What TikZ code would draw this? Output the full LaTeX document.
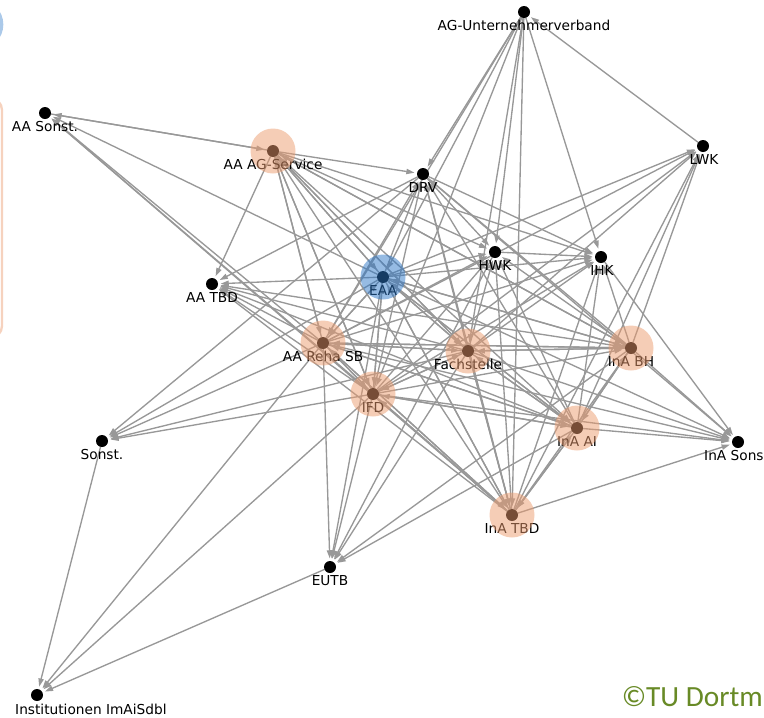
\documentclass[tikz,border=0pt]{standalone}
\usepackage{fontspec}
\setmainfont{DejaVu Sans}
\newfontfamily\tufont{Carlito}
\usetikzlibrary{arrows.meta,backgrounds}

\definecolor{peach}{RGB}{236,155,110}
\definecolor{eaablue}{RGB}{45,120,200}
\definecolor{edgegray}{RGB}{152,152,152}
\definecolor{tugreen}{RGB}{104,138,38}

\begin{document}
\begin{tikzpicture}[x=0.03cm, y=-0.03cm,
    dot/.style={circle, fill=black, inner sep=0pt, minimum size=3.6mm},
    halo/.style={circle, fill=#1, opacity=0.5, inner sep=0pt, minimum size=13.5mm},
    halo/.default=peach,
    lbl/.style={anchor=base, inner sep=0pt, font=\fontsize{11.7}{14}\selectfont},
    edge/.style={draw=edgegray, line width=1.15pt, -{Triangle[length=7pt,width=4.5pt]}, shorten >=2pt}]
  \useasboundingbox (0,0) rectangle (764,717);
  \clip (0,0) rectangle (764,717);

  % cut legend at the left border
  \fill[eaablue!40] (-22,24.5) circle (0.76cm);
  \draw[peach!45, line width=2pt, rounded corners=3.6mm] (-40,98) rectangle (2,338);

  % actors
  \node[dot] (agu) at (524,12) {};
  \node[dot] (aas) at (45,113) {};
  \node[dot] (aag) at (273,151) {};
  \node[dot] (drv) at (423,174) {};
  \node[dot] (lwk) at (703,146) {};
  \node[dot] (hwk) at (495,252) {};
  \node[dot] (ihk) at (601,257) {};
  \node[dot] (eaa) at (383,277) {};
  \node[dot] (aatbd) at (212,284) {};
  \node[dot] (reha) at (323,343) {};
  \node[dot] (fach) at (468,351) {};
  \node[dot] (inabh) at (631,348) {};
  \node[dot] (ifd) at (373,394) {};
  \node[dot] (inaai) at (577,428) {};
  \node[dot] (inas) at (738,442) {};
  \node[dot] (sonst) at (102,441) {};
  \node[dot] (inatbd) at (512,515) {};
  \node[dot] (eutb) at (330,567) {};
  \node[dot] (inst) at (37,695) {};

  % contacts
  \begin{scope}[on background layer]
    \foreach \t in {drv,eaa,reha,ifd,fach,hwk,inatbd,ihk} \draw[edge] (agu) -- (\t);
    \draw[edge] (lwk) -- (agu);
    \draw[edge] (aas) -- (aag);
    \foreach \t in {aas,drv,aatbd,eaa,reha,ifd,fach,inabh,hwk,ihk,inaai,inatbd} \draw[edge] (aag) -- (\t);
    \foreach \t in {aas,aag,drv,hwk,ihk,lwk,aatbd,reha,fach,inabh,ifd,inaai,inas,sonst,inatbd,eutb} \draw[edge] (eaa) -- (\t);
    \foreach \t in {aas,aatbd,aag,eaa,drv,hwk,ihk,lwk,fach,inabh,ifd,inaai,inas,inatbd,sonst,eutb,inst} \draw[edge] (reha) -- (\t);
    \foreach \t in {aatbd,aag,eaa,drv,hwk,ihk,lwk,inabh,inaai,inas,inatbd,ifd,reha,sonst,eutb} \draw[edge] (fach) -- (\t);
    \foreach \t in {aas,aatbd,aag,eaa,drv,hwk,ihk,lwk,fach,reha,inabh,inaai,inas,inatbd,sonst,eutb,inst} \draw[edge] (ifd) -- (\t);
    \foreach \t in {aatbd,aag,eaa,drv,hwk,ihk,lwk,inaai,inas,inatbd,eutb,fach,reha} \draw[edge] (inabh) -- (\t);
    \foreach \t in {aatbd,drv,hwk,ihk,lwk,inas,inatbd,eutb,inabh,fach,ifd,reha,eaa} \draw[edge] (inaai) -- (\t);
    \foreach \t in {aas,aatbd,hwk,ihk,lwk,inas,inaai,fach,ifd,reha,eaa,drv} \draw[edge] (inatbd) -- (\t);
    \foreach \t in {sonst,inas,hwk,ihk,aatbd} \draw[edge] (drv) -- (\t);
    \foreach \t in {ihk,eutb} \draw[edge] (hwk) -- (\t);
    \draw[edge] (ihk) -- (inas);
    \draw[edge] (sonst) -- (inst);
    \draw[edge] (eutb) -- (inst);
  \end{scope}

  % names
  \node[lbl] (agu-t) at (524,30.5) {AG-Unternehmerverband};
  \node[lbl] (aas-t) at (45,131.5) {AA Sonst.};
  \node[lbl] (aag-t) at (273,169.5) {AA AG-Service};
  \node[lbl] (drv-t) at (423,192.5) {DRV};
  \node[lbl] (lwk-t) at (704,164.5) {LWK};
  \node[lbl] (hwk-t) at (495,270.5) {HWK};
  \node[lbl] (ihk-t) at (602,275.5) {IHK};
  \node[lbl] (eaa-t) at (383,295.5) {EAA};
  \node[lbl] (aatbd-t) at (212,302.5) {AA TBD};
  \node[lbl] (reha-t) at (323,361.5) {AA Reha SB};
  \node[lbl] (fach-t) at (468,369.5) {Fachstelle};
  \node[lbl] (inabh-t) at (631,366.5) {InA BH};
  \node[lbl] (ifd-t) at (373,412.5) {IFD};
  \node[lbl] (inaai-t) at (577,446.5) {InA AI};
  \node[lbl, anchor=base west] (inas-t) at (704,460.5) {InA Sons};
  \node[lbl] (sonst-t) at (102,459.5) {Sonst.};
  \node[lbl] (inatbd-t) at (512,533.5) {InA TBD};
  \node[lbl] (eutb-t) at (330,585.5) {EUTB};
  \node[lbl, anchor=base west] (inst-t) at (15,714) {Institutionen ImAiSdbl};

  % highlighted actors
  \node[halo=eaablue] (eaa-h) at (eaa) {};
  \foreach \n in {aag,reha,fach,inabh,ifd,inaai,inatbd} \node[halo] (\n-h) at (\n) {};

  \node[anchor=base east, inner sep=0pt, text=tugreen, font=\tufont\fontsize{25}{30}\selectfont] (tu) at (763,706) {©TU Dortm};
\end{tikzpicture}
\end{document}
